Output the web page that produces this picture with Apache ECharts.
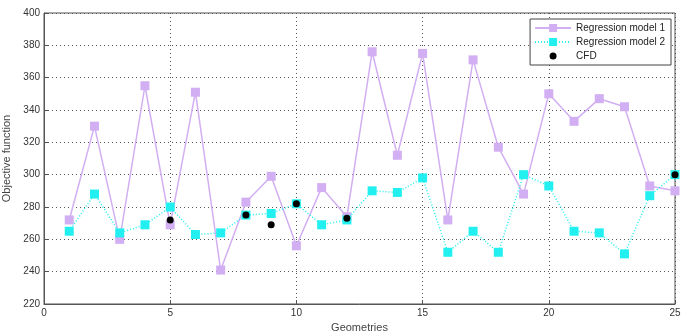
<!DOCTYPE html>
<html><head><meta charset="utf-8">
<script src="https://cdn.jsdelivr.net/npm/echarts@6/dist/echarts.min.js"></script>
<style>html,body{margin:0;padding:0;background:#fff}#c{width:683px;height:335px}</style>
</head><body><div id="c"></div>
<script>
const geometries = [1,2,3,4,5,6,7,8,9,10,11,12,13,14,15,16,17,18,19,20,21,22,23,24,25];
const model1 = [272,330,260,355,269,351,241,283,299,256,292,274,376,312,375,272,371,317,288,350,333,347,342,293,290];
const model2 = [265,288,264,269,280,263,264,275,276,282,269,272,290,289,298,252,265,252,300,293,265,264,251,287,300];
const cfdX = [5,8,9,10,12,25];
const cfdY = [272,275,269,282,273,300];
const xTicks = [0,5,10,15,20,25];
const yTicks = [220,240,260,280,300,320,340,360,380,400];

const chart = echarts.init(document.getElementById('c'), null, {renderer:'canvas'});
const font = 'Liberation Sans, Arial, sans-serif';
chart.setOption({
  animation:false,
  backgroundColor:'#fff',
  grid:{left:44,right:8,top:13,bottom:31,show:true,borderColor:'#555',borderWidth:1,
    containLabel:false,outerBoundsMode:'none'},
  legend:{
    orient:'vertical', right:12, top:19,
    backgroundColor:'#fff', borderColor:'#444', borderWidth:1, borderRadius:0,
    padding:[4,6,4,4], itemGap:4, itemWidth:36, itemHeight:10,
    textStyle:{fontFamily:font,fontSize:10,color:'#222'},
    data:[{name:'Regression model 1'},{name:'Regression model 2'},
      {name:'CFD',icon:'path://M0,0L0,0M36,10L36,10M14.5,5a3.5,3.5 0 1,0 7,0a3.5,3.5 0 1,0 -7,0z',
       itemStyle:{color:'#000',opacity:1}}]
  },
  xAxis:{type:'value',min:xTicks[0],max:xTicks[xTicks.length-1],interval:5,
    name:'Geometries',nameLocation:'middle',nameGap:16,
    nameTextStyle:{fontFamily:font,fontSize:11,color:'#444'},
    axisLine:{show:true,lineStyle:{color:'#555'}},
    axisTick:{show:true,inside:true,length:4,lineStyle:{color:'#555'}},
    axisLabel:{fontFamily:font,fontSize:10,color:'#333',margin:4},
    splitLine:{show:true,lineStyle:{color:'#555',type:[1,3],width:1}}
  },
  yAxis:{type:'value',min:yTicks[0],max:yTicks[yTicks.length-1],interval:20,
    name:'Objective function',nameLocation:'middle',nameGap:28,
    nameTextStyle:{fontFamily:font,fontSize:11,color:'#444'},
    axisLine:{show:true,lineStyle:{color:'#555'}},
    axisTick:{show:true,inside:true,length:4,lineStyle:{color:'#555'}},
    axisLabel:{fontFamily:font,fontSize:10,color:'#333',margin:4},
    splitLine:{show:true,lineStyle:{color:'#555',type:[1,3],width:1}}
  },
  series:[
    {name:'Regression model 1',type:'line',data:geometries.map((g,i)=>[g,model1[i]]),
      symbol:'rect',symbolSize:9,itemStyle:{color:'#d2aef2'},
      lineStyle:{color:'#d2aef2',width:1.5},z:2},
    {name:'Regression model 2',type:'line',data:geometries.map((g,i)=>[g,model2[i]]),
      symbol:'rect',symbolSize:9,itemStyle:{color:'#22f0f0'},
      lineStyle:{color:'#22f0f0',width:1.5,type:[1,2]},z:3},
    {name:'CFD',type:'scatter',data:cfdX.map((g,i)=>[g,cfdY[i]]),
      symbol:'circle',symbolSize:7,itemStyle:{color:'#000',opacity:1},z:4}
  ]
});
</script></body></html>
